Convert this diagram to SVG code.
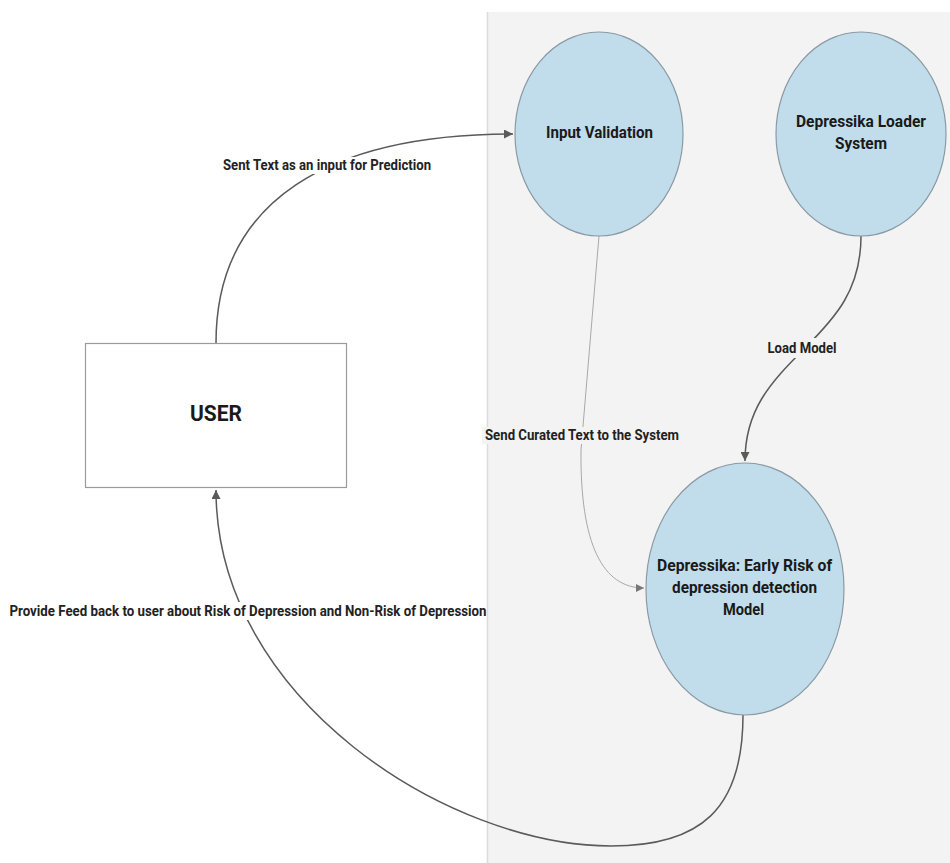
<svg xmlns="http://www.w3.org/2000/svg" width="950" height="863" viewBox="0 0 950 863">
<style>
.lbl{font-family:Roboto,"Liberation Sans",Arial,sans-serif;font-weight:bold;font-size:14px;fill:#222;text-anchor:middle;dominant-baseline:central}
.node{font-family:Roboto,"Liberation Sans",Arial,sans-serif;font-weight:bold;font-size:16px;fill:#1a1a1a;text-anchor:middle;dominant-baseline:central}
.ell{fill:#c1ddeb;stroke:#8a9aa4;stroke-width:1.2}
.edge{fill:none;stroke:#5a5a5a;stroke-width:1.5}
.edge-light{fill:none;stroke:#a8a8a8;stroke-width:1}
</style>
<defs>
<marker id="arr" viewBox="0 0 10 10" refX="10" refY="5" markerWidth="10" markerHeight="9" markerUnits="userSpaceOnUse" orient="auto">
<path d="M0,0 L10,5 L0,10 z" fill="#5a5a5a"/>
</marker>
<marker id="arrl" viewBox="0 0 10 10" refX="10" refY="5" markerWidth="9" markerHeight="8" markerUnits="userSpaceOnUse" orient="auto">
<path d="M0,0 L10,5 L0,10 z" fill="#777"/>
</marker>
</defs>
<rect x="0" y="0" width="950" height="863" fill="#ffffff"/>
<g id="panel">
<rect x="487" y="12" width="463" height="851" fill="#f3f3f3"/>
<line x1="487.5" y1="12" x2="487.5" y2="863" stroke="#dcdcdc" stroke-width="1.5"/>
</g>
<g id="connectors">
<path class="edge" d="M216,343 C216,200 330,134 513,134" marker-end="url(#arr)"/>
<path class="edge-light" d="M599,236 L581,450 C580,545 603,588 644,588" marker-end="url(#arrl)"/>
<path class="edge" d="M861,236 C861,290 835,318 805,348 C770,383 745,410 745,461" marker-end="url(#arr)"/>
<path class="edge" d="M743,715 C743,810 700,846 611,846 C450,846 216,700 216,490" marker-end="url(#arr)"/>
<g id="edge-labels">
<rect x="220" y="157" width="214" height="17" fill="#ffffff"/>
<text class="lbl" x="327" y="165" textLength="208" lengthAdjust="spacingAndGlyphs">Sent Text as an input for Prediction</text>
<rect x="482" y="427" width="200" height="17" fill="#f3f3f3"/>
<text class="lbl" x="582" y="435" textLength="194" lengthAdjust="spacingAndGlyphs">Send Curated Text to the System</text>
<rect x="764" y="338" width="77" height="20" fill="#f3f3f3"/>
<text class="lbl" x="802" y="348" textLength="69" lengthAdjust="spacingAndGlyphs">Load Model</text>
<rect x="8" y="602" width="478" height="18" fill="#ffffff"/>
<text class="lbl" x="248" y="611" textLength="477" lengthAdjust="spacingAndGlyphs">Provide Feed back to user about Risk of Depression and Non-Risk of Depression</text>
</g>
</g>
<g id="user">
<rect x="85.5" y="343.5" width="261" height="144" fill="#ffffff" stroke="#9a9a9a" stroke-width="1.2"/>
<text class="node" x="216" y="413" style="font-size:22px" textLength="52" lengthAdjust="spacingAndGlyphs">USER</text>
</g>
<g id="input-validation">
<ellipse class="ell" cx="599" cy="134" rx="84" ry="102"/>
<text class="node" x="599.5" y="132" textLength="107" lengthAdjust="spacingAndGlyphs">Input Validation</text>
</g>
<g id="loader">
<ellipse class="ell" cx="861" cy="134" rx="85" ry="102"/>
<text class="node" x="861" y="121" textLength="130" lengthAdjust="spacingAndGlyphs">Depressika Loader</text>
<text class="node" x="861" y="143" textLength="52" lengthAdjust="spacingAndGlyphs">System</text>
</g>
<g id="model">
<ellipse class="ell" cx="745" cy="589" rx="99" ry="126"/>
<text class="node" x="744.5" y="565" textLength="175" lengthAdjust="spacingAndGlyphs">Depressika: Early Risk of</text>
<text class="node" x="744.5" y="587" textLength="145" lengthAdjust="spacingAndGlyphs">depression detection</text>
<text class="node" x="743.5" y="609" textLength="41" lengthAdjust="spacingAndGlyphs">Model</text>
</g>
</svg>
